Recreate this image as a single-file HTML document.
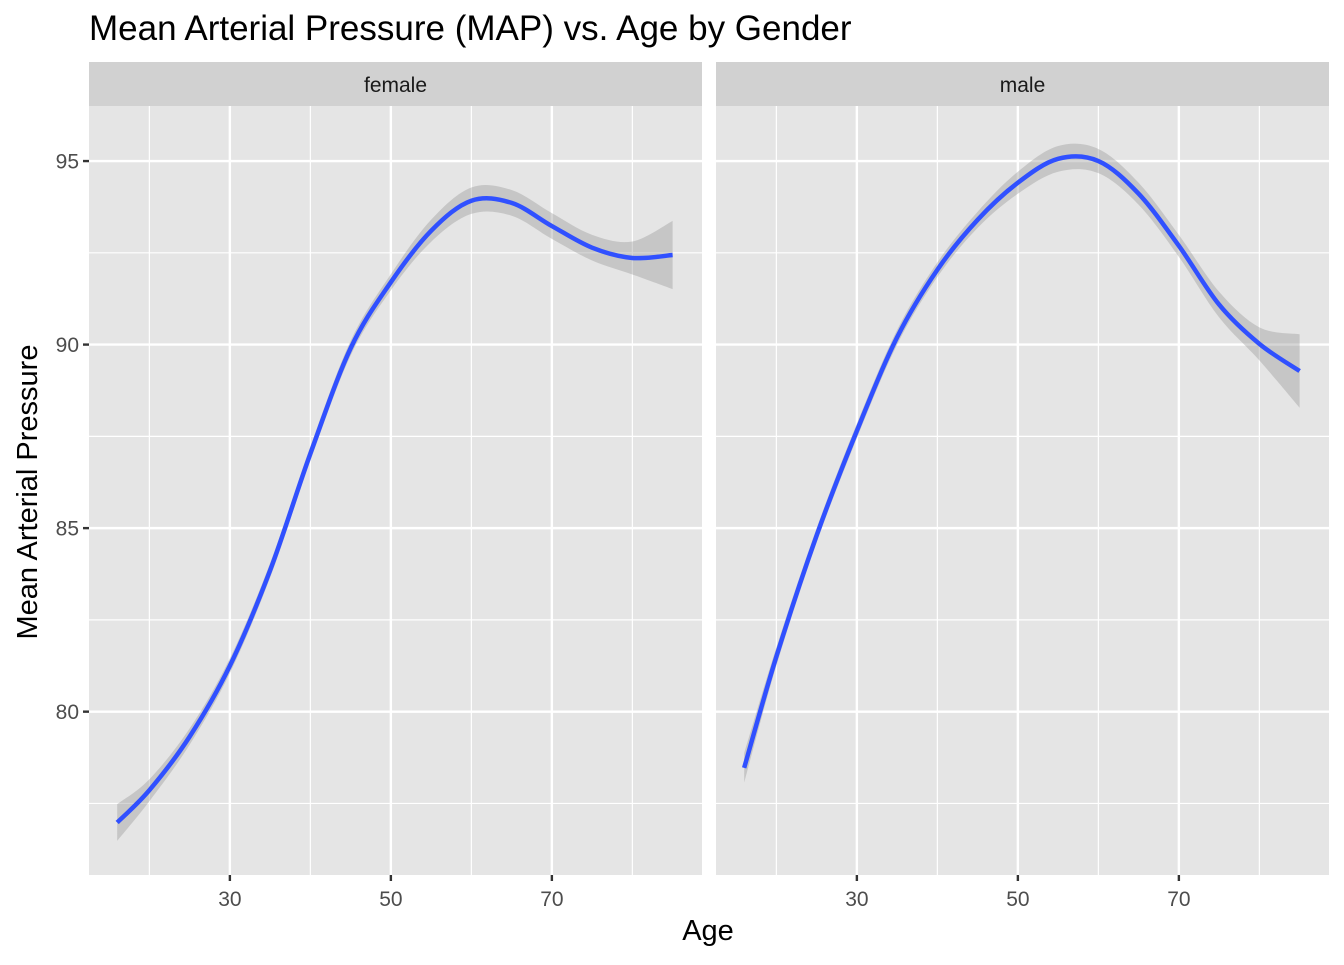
<!DOCTYPE html>
<html><head><meta charset="utf-8"><style>
body{margin:0;background:#fff;}
svg text{font-family:"Liberation Sans",Arial,sans-serif;}
</style></head><body>
<svg id="chart" width="1344" height="960" xmlns="http://www.w3.org/2000/svg">
<text x="89" y="40" font-size="35" fill="#000">Mean Arterial Pressure (MAP) vs. Age by Gender</text>
<text x="708" y="940" font-size="29" text-anchor="middle" fill="#000">Age</text>
<text transform="translate(37,492) rotate(-90)" font-size="29" text-anchor="middle" fill="#000">Mean Arterial Pressure</text>
<g id="plots"></g>
</svg>
<script>
const panels = ["female", "male"];
const femaleAge = [16, 20, 25, 30, 35, 40, 45, 50, 55, 60, 65, 70, 75, 80, 85];
const femaleMap = [76.98, 77.86, 79.32, 81.25, 83.85, 87.03, 89.9, 91.7, 93.1, 93.92, 93.86, 93.23, 92.64, 92.36, 92.44];
const femaleSe = [0.5, 0.3, 0.22, 0.2, 0.2, 0.2, 0.2, 0.22, 0.3, 0.36, 0.35, 0.35, 0.35, 0.45, 0.93];
const maleAge = [16, 20, 25, 30, 35, 40, 45, 50, 55, 60, 65, 70, 75, 80, 85];
const maleMap = [78.47, 81.5, 84.8, 87.65, 90.2, 92.04, 93.4, 94.41, 95.06, 95.0, 94.11, 92.69, 91.09, 90.02, 89.28];
const maleSe = [0.4, 0.25, 0.2, 0.2, 0.2, 0.2, 0.22, 0.3, 0.35, 0.33, 0.3, 0.3, 0.35, 0.45, 1.0];
const xTicks = [30, 50, 70];
const xMinor = [20, 40, 60, 80];
const yTicks = [80, 85, 90, 95];
const yMinor = [77.5, 82.5, 87.5, 92.5];

const NS = "http://www.w3.org/2000/svg";
const g = document.getElementById("plots");
const panelLeft = [89, 716], panelW = 613, pTop = 106, pBottom = 875;
const xMin = 12.5, xMax = 88.65, yMin = 75.55, yMax = 96.5;
function sx(p, v){ return panelLeft[p] + (v - xMin) / (xMax - xMin) * panelW; }
function sy(v){ return pBottom - (v - yMin) / (yMax - yMin) * (pBottom - pTop); }
function el(tag, attrs, parent){ const e = document.createElementNS(NS, tag); for (const k in attrs) e.setAttribute(k, attrs[k]); (parent||g).appendChild(e); return e; }
function smooth(pts, cont){
  let d = cont ? "" : "M" + pts[0][0] + "," + pts[0][1];
  for (let i = 0; i < pts.length - 1; i++){
    const p0 = pts[Math.max(i-1,0)], p1 = pts[i], p2 = pts[i+1], p3 = pts[Math.min(i+2,pts.length-1)];
    const c1 = [p1[0] + (p2[0]-p0[0])/6, p1[1] + (p2[1]-p0[1])/6];
    const c2 = [p2[0] - (p3[0]-p1[0])/6, p2[1] - (p3[1]-p1[1])/6];
    d += " C" + c1[0] + "," + c1[1] + " " + c2[0] + "," + c2[1] + " " + p2[0] + "," + p2[1];
  }
  return d;
}
const series = [[femaleAge, femaleMap, femaleSe], [maleAge, maleMap, maleSe]];
panels.forEach((name, p) => {
  const L = panelLeft[p];
  const strip = el("rect", {x:L, y:62, width:panelW, height:pTop-62, fill:"#d1d1d1"});
  
  
  const st = el("text", {x:L+panelW/2, y:92, "font-size":21, "text-anchor":"middle", fill:"#1a1a1a"});
  st.textContent = name;
  
  
  const bg = el("rect", {x:L, y:pTop, width:panelW, height:pBottom-pTop, fill:"#e5e5e5"});
  
  
  yMinor.forEach(v => { const l = el("line", {x1:L, x2:L+panelW, y1:sy(v), y2:sy(v), stroke:"#fff", "stroke-width":1.2});
      });
  xMinor.forEach(v => { const l = el("line", {x1:sx(p,v), x2:sx(p,v), y1:pTop, y2:pBottom, stroke:"#fff", "stroke-width":1.2});
      });
  yTicks.forEach(v => { const l = el("line", {x1:L, x2:L+panelW, y1:sy(v), y2:sy(v), stroke:"#fff", "stroke-width":2.4});
      });
  xTicks.forEach(v => {
    const l = el("line", {x1:sx(p,v), x2:sx(p,v), y1:pTop, y2:pBottom, stroke:"#fff", "stroke-width":2.4});
     
    const t = el("line", {x1:sx(p,v), x2:sx(p,v), y1:pBottom, y2:pBottom+6, stroke:"#333", "stroke-width":2.4});
     
    const tx = el("text", {x:sx(p,v), y:906, "font-size":21, "text-anchor":"middle", fill:"#4d4d4d"});
    tx.textContent = v;
     
  });
  const [ages, vals, se] = series[p];
  const upper = ages.map((a,i) => [sx(p,a), sy(vals[i] + se[i])]);
  const lower = ages.map((a,i) => [sx(p,a), sy(vals[i] - se[i])]).reverse();
  const ribbon = el("path", {d: smooth(upper) + " L" + lower[0][0] + "," + lower[0][1] + smooth(lower, true) + " Z", fill:"#999", "fill-opacity":0.4});
  
  
  const line = el("path", {d: smooth(ages.map((a,i) => [sx(p,a), sy(vals[i])])), fill:"none", stroke:"#3050FF", "stroke-width":4.5});
  
  
});
yTicks.forEach(v => {
  const t = el("line", {x1:83, x2:89, y1:sy(v), y2:sy(v), stroke:"#333", "stroke-width":2.4});
   
  const tx = el("text", {x:79, y:sy(v)+7.5, "font-size":21, "text-anchor":"end", fill:"#4d4d4d"});
  tx.textContent = v;
   
});
</script>
</body></html>
